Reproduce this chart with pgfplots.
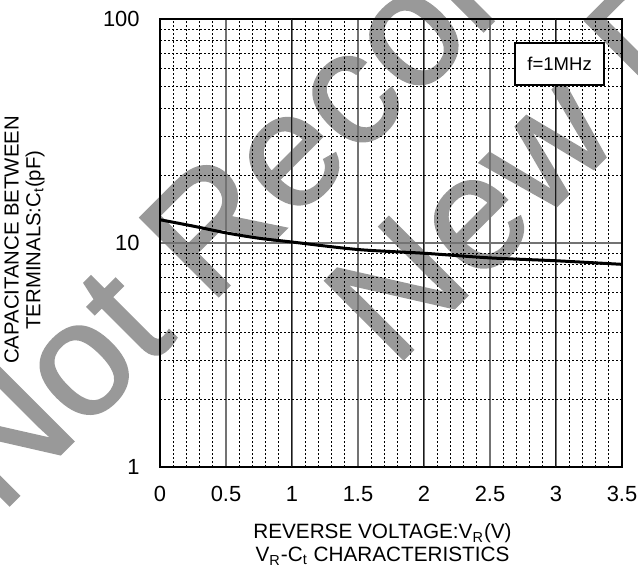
\documentclass[border=0pt]{standalone}
\usepackage{fontspec}
\setmainfont{Liberation Sans}
\newfontfamily\wmfont[FakeBold=1.3]{Liberation Sans}
\usepackage{pgfplots}
\pgfplotsset{compat=1.18}
\definecolor{wmgray}{RGB}{153,153,153}

\begin{document}
\begin{tikzpicture}
% watermark first, so that the grid is drawn over it
\begin{scope}[every node/.style={rotate=45, anchor=base west, inner sep=0pt,
      text=wmgray, font=\wmfont\fontsize{81}{81}\selectfont}]
\node at (-80bp,-24bp) {Not Recommended for};
\node at (117bp,49bp) {New Designs};
\end{scope}

\begin{axis}[
    at={(0,0)}, anchor=south west,
    width=231bp, height=224bp, scale only axis,
    xmin=0, xmax=3.5,
    ymin=1, ymax=100,
    ymode=log,
    xtick={0,0.5,1,1.5,2,2.5,3,3.5},
    xticklabels={0,0.5,1,1.5,2,2.5,3,3.5},
    minor xtick={0.1,0.2,0.3,0.4,0.6,0.7,0.8,0.9,1.1,1.2,1.3,1.4,1.6,1.7,1.8,1.9,2.1,2.2,2.3,2.4,2.6,2.7,2.8,2.9,3.1,3.2,3.3,3.4},
    extra x ticks={1,2,3},
    extra x tick labels={},
    extra x tick style={grid=major, major grid style={black!90, line width=0.5bp}},
    ytick={1,10,100},
    yticklabels={1,10,100},
    minor ytick={2,3,4,5,6,7,8,9,20,30,40,50,60,70,80,90},
    grid=both,
    major grid style={black!55, line width=0.6bp},
    minor grid style={black, line width=0.4bp, dash pattern=on 1.2bp off 0.8bp},
    major tick length=0pt, minor tick length=0pt,
    axis line style={line width=1bp},
    tick label style={font=\fontsize{11}{13}\selectfont},
    xticklabel style={anchor=center, yshift=-13.5bp},
    yticklabel style={anchor=east, inner sep=0pt, xshift=-10bp},
]
\addplot[black, line width=1.5bp, smooth] coordinates {
    (0,12.7)(0.25,11.9)(0.5,11.1)(0.75,10.5)(1,10.1)(1.5,9.35)
    (2,9.0)(2.5,8.58)(3,8.33)(3.5,8.03)
};

\node[draw, line width=1.2bp, fill=white, minimum width=44.5bp, minimum height=21bp,
      inner sep=0pt, font=\fontsize{9.3}{11}\selectfont]
      at (rel axis cs:0.865,0.8996) {f=1MHz};
\end{axis}

\node[rotate=90, align=center, font=\fontsize{10.2}{11}\selectfont]
    at (-67.75bp,113.5bp) {CAPACITANCE BETWEEN\\TERMINALS:C\textsubscript{t}(pF)};
\node[align=center, font=\fontsize{10.4}{11.5}\selectfont]
    at (111.25bp,-38.75bp) {REVERSE VOLTAGE:V\textsubscript{R}(V)\\V\textsubscript{R}-C\textsubscript{t} CHARACTERISTICS};
\pgfresetboundingbox
\path[use as bounding box] (-80bp,-50bp) rectangle (239bp,233.5bp);
\end{tikzpicture}
\end{document}
